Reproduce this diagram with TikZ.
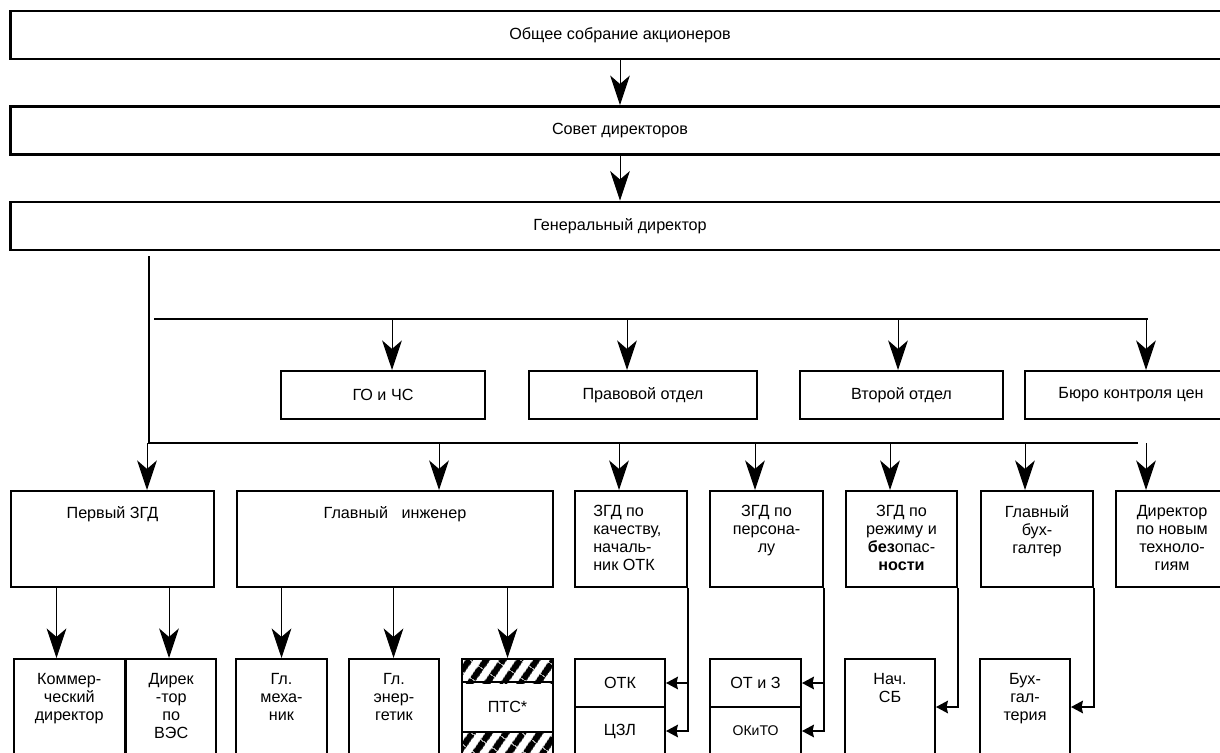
\documentclass[tikz,border=0pt]{standalone}
\usepackage{fontspec}
\setmainfont{Liberation Sans}
\usepackage{tikz}
\usetikzlibrary{arrows.meta,patterns.meta}

\tikzset{
	head/.style={draw, line width=2pt, inner sep=0pt, minimum width=30.45cm, minimum height=1.2cm},
	dept/.style={draw, line width=1.4pt, inner sep=0pt, minimum height=1.2cm},
	unit/.style={draw, line width=1.4pt, inner sep=0pt, minimum height=2.4cm},
	txt/.style={anchor=north, align=center, inner sep=0pt, execute at begin node=\strut},
	bus/.style={line width=1.4pt},
	down/.style={line width=0.7pt, -{Stealth[length=21pt, width=14pt, inset=6pt]}},
	side/.style={line width=1pt, -{Stealth[length=8.5pt, width=9pt, inset=1pt]}},
	hatch/.style={pattern={Lines[angle=55, distance=10.5pt, line width=5pt]}}
}

\begin{document}
\begin{tikzpicture}[x=0.025cm, y=-0.025cm, font=\fontsize{11.5}{12.8}\selectfont]
	\clip (0,0) rectangle (1220,753);

	\node[head] (osa) at (620,35) {Общее собрание акционеров};
	\node[head] (sd) at (620,130.5) {Совет директоров};
	\node[head] (gd) at (620,226) {Генеральный директор};
	\draw[down] (osa) -- (sd);
	\draw[down] (sd) -- (gd);

	\node[dept, minimum width=5.1cm] (gochs) at (383,395) {ГО и ЧС};
	\node[dept, minimum width=5.7cm] (pravo) at (643,395) {Правовой отдел};
	\node[dept, minimum width=5.075cm] (vtor) at (901.5,395) {Второй отдел};
	\node[dept, minimum width=5.3cm] (buro) at (1131,395) {Бюро контроля цен};

	\node[unit, minimum width=5.075cm] (perv) at (112.5,539) {};
	\node[unit, minimum width=7.9cm] (glinzh) at (395,539) {};
	\node[unit, minimum width=2.8cm] (zgdk) at (631,539) {};
	\node[unit, minimum width=2.825cm] (zgdp) at (766.5,539) {};
	\node[unit, minimum width=2.775cm] (zgdr) at (901.5,539) {};
	\node[unit, minimum width=2.8cm] (glbuh) at (1037,539) {};
	\node[unit, minimum width=2.8cm] (dirnt) at (1172,539) {};

	\node[txt] (perv-t) at ([yshift=-0.38cm]perv.north) {Первый ЗГД};
	\node[txt] (glinzh-t) at ([yshift=-0.38cm]glinzh.north) {Главный~~~инженер};
	\node[txt, anchor=north west, align=left] (zgdk-t) at ([xshift=0.475cm, yshift=-0.38cm]zgdk.north west) {ЗГД по\\качеству,\\началь-\\ник ОТК};
	\node[txt] (zgdp-t) at ([yshift=-0.38cm]zgdp.north) {ЗГД по\\персона-\\лу};
	\node[txt] (zgdr-t) at ([yshift=-0.38cm]zgdr.north) {ЗГД по\\режиму и\\\textbf{без}опас-\\\textbf{ности}};
	\node[txt] (glbuh-t) at ([yshift=-0.38cm]glbuh.north) {Главный\\бух-\\галтер};
	\node[txt] (dirnt-t) at ([yshift=-0.38cm]dirnt.north) {Директор\\по новым\\техноло-\\гиям};

	\node[unit, minimum width=2.7625cm] (komm) at (69.25,707) {};
	\node[unit, minimum width=2.2375cm] (ves) at (171.25,707) {};
	\node[unit, minimum width=2.275cm] (mech) at (281.5,707) {};
	\node[unit, minimum width=2.25cm] (energ) at (394,707) {};
	\fill[hatch] (462,659) rectangle (553,683);
	\fill[hatch] (462,731) rectangle (553,755);
	\node[unit, minimum width=2.275cm] (pts) at (507.5,707) {ПТС*};
	\draw[line width=1.4pt] ([yshift=-0.6cm]pts.north west) -- ([yshift=-0.6cm]pts.north east);
	\draw[line width=1.4pt] ([yshift=0.6cm]pts.south west) -- ([yshift=0.6cm]pts.south east);
	\node[dept, minimum width=2.25cm] (otk) at (620,683) {ОТК};
	\node[dept, minimum width=2.25cm] (czl) at (620,731) {ЦЗЛ};
	\node[dept, minimum width=2.275cm] (ot3) at (755.5,683) {ОТ и З};
	\node[dept, minimum width=2.275cm, font=\fontsize{10}{12}\selectfont] (okito) at (755.5,731) {ОКиТО};
	\node[unit, minimum width=2.25cm] (nachsb) at (890,707) {};
	\node[unit, minimum width=2.25cm] (buhg) at (1025,707) {};

	\node[txt] (komm-t) at ([yshift=-0.37cm]komm.north) {Коммер-\\ческий\\директор};
	\node[txt] (ves-t) at ([yshift=-0.37cm]ves.north) {Дирек\\-тор\\по\\ВЭС};
	\node[txt] (mech-t) at ([yshift=-0.37cm]mech.north) {Гл.\\меха-\\ник};
	\node[txt] (energ-t) at ([yshift=-0.37cm]energ.north) {Гл.\\энер-\\гетик};
	\node[txt] (nachsb-t) at ([yshift=-0.37cm]nachsb.north) {Нач.\\СБ};
	\node[txt] (buhg-t) at ([yshift=-0.37cm]buhg.north) {Бух-\\гал-\\терия};

	\coordinate (hub) at (149,443);
	\coordinate (lb-r) at (1138,443);
	\coordinate (ub-l) at (154,319);
	\coordinate (ub-r) at (1148,319);
	\draw[bus] ([yshift=-0.125cm]gd.south -| hub) -- (hub) -- (lb-r);
	\draw[bus] (ub-l) -- (ub-r);

	\foreach \n/\x in {gochs/392, pravo/627, vtor/898, buro/1146} {
		\coordinate (\n-tap) at (\x,319);
		\draw[down] (\n-tap) -- (\n-tap |- \n.north);
	}
	\foreach \n/\x in {perv/147, glinzh/439, zgdk/619, zgdp/755, zgdr/890, glbuh/1025, dirnt/1146} {
		\coordinate (\n-tap) at (\x,443);
		\draw[down] (\n-tap) -- (\n-tap |- \n.north);
	}
	\foreach \n/\x in {komm/56.5, ves/169} {
		\coordinate (\n-tap) at (\x,0);
		\draw[down] (\n-tap |- perv.south) -- (\n-tap |- \n.north);
	}
	\foreach \n/\x in {mech/281.5, energ/393.5, pts/507.5} {
		\coordinate (\n-tap) at (\x,0);
		\draw[down] (\n-tap |- glinzh.south) -- (\n-tap |- \n.north);
	}

	\draw[side] (zgdk.south east) -- (zgdk.south east |- otk.east) -- (otk.east);
	\draw[side] (zgdk.south east) -- (zgdk.south east |- czl.east) -- (czl.east);
	\draw[side] (zgdp.south east) -- (zgdp.south east |- ot3.east) -- (ot3.east);
	\draw[side] (zgdp.south east) -- (zgdp.south east |- okito.east) -- (okito.east);
	\draw[side] (zgdr.south east) -- (zgdr.south east |- nachsb.east) -- (nachsb.east);
	\draw[side] (glbuh.south east) -- (glbuh.south east |- buhg.east) -- (buhg.east);
\end{tikzpicture}
\end{document}
